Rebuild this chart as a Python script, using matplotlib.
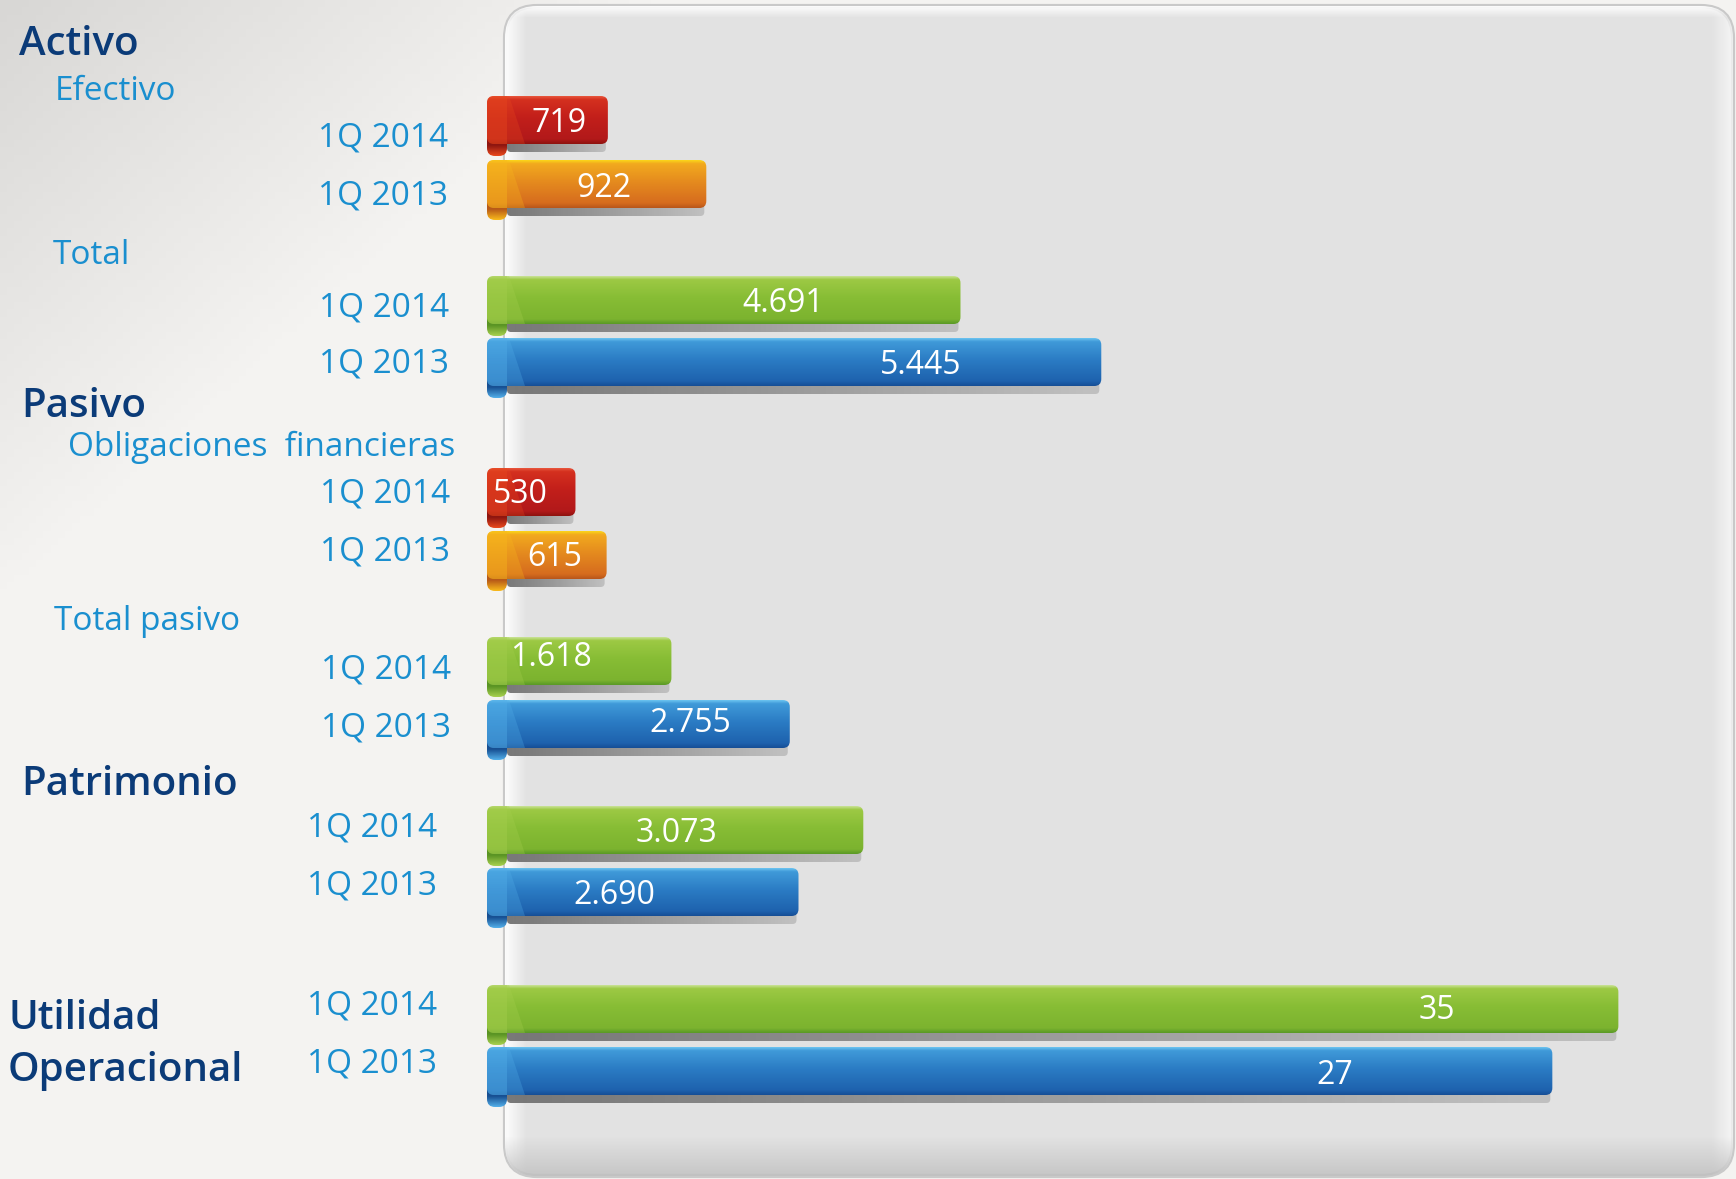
import numpy as np
import matplotlib
matplotlib.use('Agg')
import matplotlib.pyplot as plt
from matplotlib.patches import FancyBboxPatch, Polygon
from matplotlib.colors import to_rgb

plt.rcParams['font.family'] = ['Open Sans', 'DejaVu Sans']

# ---- data ----
headers = ['Activo', 'Pasivo', 'Patrimonio', 'Utilidad', 'Operacional']
subheaders = ['Efectivo', 'Total', 'Obligaciones  financieras', 'Total pasivo']
periods = ['1Q 2014', '1Q 2013'] * 6
values = ['719', '922', '4.691', '5.445', '530', '615',
          '1.618', '2.755', '3.073', '2.690', '35', '27']
# displayed bar length, in % of the panel width (bars are not to scale in the original)
bar_len = [9.7, 17.6, 38.0, 49.3, 7.1, 9.6, 14.8, 24.3, 30.2, 25.0, 90.8, 85.5]
bar_kind = ['red', 'orange', 'green', 'blue', 'red', 'orange',
            'green', 'blue', 'green', 'blue', 'green', 'blue']

# ---- layout (pixels) ----
W, H = 1736, 1179
BAR_X0, PANEL_X1 = 487, 1733
PXU = (PANEL_X1 - BAR_X0) / 100.0          # pixels per % unit
BAR_H = 48
row_y = [120, 184, 300, 362, 492, 555, 661, 724, 830, 892, 1009, 1071]
label_x = [5.8, 9.4, 23.8, 34.8, 2.7, 5.4, 5.1, 16.3, 15.2, 10.2, 76.2, 68.0]
label_dy = [12, 13, 12, 12, 11, 11, 5, 8, 12, 12, 10, 13]
period_right = [448, 448, 449, 449, 450, 450, 451, 451, 437, 437, 437, 437]
period_base = [147, 204, 317, 373, 503, 561, 678, 737, 837, 895, 1015, 1073]
header_pos = [(19, 55), (21, 417), (21, 795), (8, 1029), (8, 1081)]
sub_pos = [(55, 100), (53, 264), (68, 456), (54, 630)]

NAVY = '#0b3b78'
LBLUE = '#1a8fcf'

palettes = {
    'red':    dict(stops=['#e8563c', '#d4301f', '#c21f1a', '#b2191a', '#8e130f'],
                   fold='#e8481d', curl='#8e1610'),
    'orange': dict(stops=['#fbd61a', '#f2aa1e', '#e58b1e', '#d66c1e', '#b9561a'],
                   fold='#f8b91c', curl='#b85a18'),
    'green':  dict(stops=['#c9e295', '#9dc944', '#87bd35', '#7cb32f', '#5a9a26'],
                   fold='#a6cf4e', curl='#5a9424'),
    'blue':   dict(stops=['#6cc4f0', '#409ad9', '#2b7cc4', '#1e62ae', '#164e96'],
                   fold='#52aee8', curl='#174f92'),
}


def grad_v(colors, n=80, pos=None):
    pos = np.linspace(0, 1, len(colors)) if pos is None else pos
    rgb = np.array([to_rgb(c) for c in colors])
    t = np.linspace(0, 1, n)
    out = np.stack([np.interp(t, pos, rgb[:, k]) for k in range(3)], axis=1)
    return out[:, None, :]


fig = plt.figure(figsize=(W / 100, H / 100), dpi=100)

# ---- background ----
bg = fig.add_axes([0, 0, 1, 1])
bg.set_xlim(0, W)
bg.set_ylim(H, 0)
bg.axis('off')
xx, yy = np.meshgrid(np.linspace(0, W, 240), np.linspace(0, H, 160))
t = np.clip((xx + 1.1 * yy) / 650, 0, 1)[..., None]
c0, c1 = np.array(to_rgb('#d8d7d5')), np.array(to_rgb('#f4f3f1'))
bg.imshow(c0 + t * (c1 - c0), extent=(0, W, H, 0), aspect='auto', zorder=0)

# ---- panel ----
px0, py0, px1, py1 = 505, 6, 1733, 1176
panel = FancyBboxPatch((px0, py0), px1 - px0, py1 - py0,
                       boxstyle='round,pad=0,rounding_size=32',
                       fc='#e2e2e2', ec='#c9c9c9', lw=3, zorder=1)
bg.add_patch(panel)


def overlay(ax, extent, rgba, clip, z):
    im = ax.imshow(rgba, extent=extent, aspect='auto', zorder=z,
                   interpolation='bilinear')
    im.set_clip_path(clip)


a = np.linspace(0.95, 0, 40)
white_h = np.ones((1, 40, 4)); white_h[0, :, 3] = a
overlay(bg, (px0, px0 + 22, py1, py0), white_h, panel, 1.5)
overlay(bg, (px1, px1 - 22, py1, py0), white_h * [1, 1, 1, 0.7], panel, 1.5)
white_v = np.ones((40, 1, 4)); white_v[:, 0, 3] = a
overlay(bg, (px0, px1, py0 + 12, py0), white_v, panel, 1.5)
dark_v = np.zeros((40, 1, 4)) + [0.75, 0.75, 0.75, 0]
dark_v[:, 0, 3] = np.linspace(0, 0.8, 40)
overlay(bg, (px0, px1, py1, py1 - 40), dark_v, panel, 1.5)

# ---- labels ----
for txt, (x, y) in zip(headers, header_pos):
    bg.text(x, y, txt, fontsize=29, color=NAVY, fontweight='semibold',
            va='baseline', ha='left', zorder=6)
for txt, (x, y) in zip(subheaders, sub_pos):
    bg.text(x, y, txt, fontsize=24, color=LBLUE, va='baseline', ha='left', zorder=6)
for txt, x, y in zip(periods, period_right, period_base):
    bg.text(x, y, txt, fontsize=24, color=LBLUE, va='baseline', ha='right', zorder=6)

# ---- ribbon bars ----
ax = fig.add_axes([BAR_X0 / W, 0, (PANEL_X1 - BAR_X0) / W, 1])
ax.set_xlim(0, 100)
ax.set_ylim(H, 0)
ax.axis('off')
ax.patch.set_alpha(0)

bars = ax.barh(row_y, bar_len, height=BAR_H, left=0, zorder=3)
px = 1.0 / PXU

for rect, kind, val, lx, dy in zip(bars, bar_kind, values, label_x, label_dy):
    rect.set_visible(False)
    pal = palettes[kind]
    x0, L = rect.get_x(), rect.get_width()
    top = rect.get_y()
    bot = top + rect.get_height()

    # drop shadow
    sh = FancyBboxPatch((x0 + 20 * px, bot - 4), L - 22 * px, 12,
                        boxstyle=f'round,pad=0,rounding_size={4 * px}',
                        mutation_aspect=PXU, fc='none', ec='none', zorder=2)
    ax.add_patch(sh)
    n = 60
    shg = np.zeros((1, n, 4))
    shg[0, :, :3] = np.linspace(0.42, 0.74, n)[:, None]
    shg[0, :, 3] = 0.9
    overlay(ax, (x0 + 20 * px, x0 + L - 2 * px, bot + 8, bot - 4), shg, sh, 2)

    # curl at the lower left
    curl = FancyBboxPatch((x0, bot - 12), 20 * px, 24,
                          boxstyle=f'round,pad=0,rounding_size={8 * px}',
                          mutation_aspect=PXU, fc='none', ec='none', zorder=2.5)
    ax.add_patch(curl)
    cg = grad_v([pal['curl'], pal['curl'], pal['fold']], n=40, pos=[0, 0.55, 1])
    overlay(ax, (x0, x0 + 20 * px, bot + 12, bot - 12), cg, curl, 2.5)

    # main body
    body = FancyBboxPatch((x0, top), L, BAR_H,
                          boxstyle=f'round,pad=0,rounding_size={7 * px}',
                          mutation_aspect=PXU, fc='none', ec='none', zorder=3)
    ax.add_patch(body)
    g = grad_v(pal['stops'], n=100, pos=[0, 0.07, 0.45, 0.9, 1])
    overlay(ax, (x0, x0 + L, bot, top), g, body, 3)

    # fold highlight on the left: light strip plus a soft diagonal band
    band = Polygon([(x0, top), (x0 + 22 * px, top), (x0 + 38 * px, bot), (x0, bot)],
                   closed=True, fc=pal['fold'], ec='none', alpha=0.3, zorder=3.5)
    ax.add_patch(band)
    band.set_clip_path(body)
    strip = Polygon([(x0, top), (x0 + 20 * px, top), (x0 + 20 * px, bot), (x0, bot)],
                    closed=True, fc=pal['fold'], ec='none', alpha=0.4, zorder=3.6)
    ax.add_patch(strip)
    strip.set_clip_path(body)

    ax.text(lx, (top + bot) / 2 + dy, val, fontsize=23, color='white',
            ha='center', va='baseline', zorder=5)

fig.savefig('out.png', dpi=100)
